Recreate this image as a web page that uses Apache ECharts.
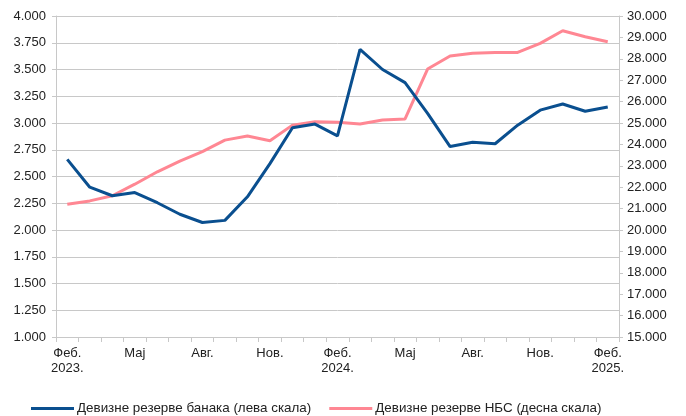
<!DOCTYPE html>
<html>
<head>
<meta charset="utf-8">
<script src="https://cdn.jsdelivr.net/npm/echarts@6/dist/echarts.min.js"></script>
<style>
  html, body { margin: 0; padding: 0; background: #fff; }
  #chart { width: 686px; height: 416px; }
</style>
</head>
<body>
<div id="chart"></div>
<script>
// месеци, феб. 2023 - феб. 2025
const months = ['Феб.\n2023.', 'Мар', 'Апр', 'Мај', 'Јун', 'Јул', 'Авг.', 'Сеп', 'Окт', 'Нов.', 'Дец', 'Јан',
  'Феб.\n2024.', 'Мар', 'Апр', 'Мај', 'Јун', 'Јул', 'Авг.', 'Сеп', 'Окт', 'Нов.', 'Дец', 'Јан', 'Феб.\n2025.'];

// девизне резерве банака (лева скала)
const banks = [2.66, 2.40, 2.32, 2.35, 2.255, 2.147, 2.07, 2.09, 2.31, 2.62, 2.956, 2.99,
  2.88, 3.689, 3.50, 3.377, 3.09, 2.78, 2.82, 2.806, 2.98, 3.12, 3.178, 3.11, 3.15];

// девизне резерве НБС (десна скала)
const nbs = [21200, 21360, 21600, 22140, 22720, 23220, 23660, 24200, 24390, 24170, 24900, 25060,
  25030, 24950, 25140, 25190, 27520, 28130, 28260, 28300, 28300, 28720, 29310, 29030, 28800];

const blue = '#0a4f8f';
const pink = '#ff8793';
const gridColor = '#c8c8c8';

const fmtThousand = function (v) {
  return String(Math.round(v)).replace(/\B(?=(\d{3})+(?!\d))/g, '.');
};

const chart = echarts.init(document.getElementById('chart'));

const option = {
  animation: false,
  textStyle: { fontFamily: 'Liberation Sans, Arial, sans-serif' },
  grid: { left: 56, right: 67, top: 16, bottom: 79 },
  legend: {
    top: 397,
    left: 26,
    itemWidth: 43,
    itemHeight: 3,
    itemGap: 18,
    icon: 'rect',
    textStyle: { fontSize: 13.4, color: '#222', padding: [0, 0, 0, -2] },
    data: ['Девизне резерве банака (лева скала)', 'Девизне резерве НБС (десна скала)']
  },
  xAxis: {
    type: 'category',
    data: months,
    boundaryGap: true,
    axisLine: { lineStyle: { color: gridColor, width: 1 } },
    axisTick: { show: true, interval: 0, length: 5, lineStyle: { color: gridColor } },
    axisLabel: {
      interval: 2,
      color: '#222',
      fontSize: 13,
      lineHeight: 15,
      margin: 9
    }
  },
  yAxis: [
    {
      type: 'value',
      min: 1,
      max: 4,
      interval: 0.25,
      axisLine: { show: true, lineStyle: { color: gridColor } },
      axisTick: { show: true, length: 4, lineStyle: { color: gridColor } },
      splitLine: { lineStyle: { color: gridColor, width: 1 } },
      axisLabel: {
        color: '#222',
        fontSize: 13,
        margin: 10,
        formatter: function (v) { return v.toFixed(3); }
      }
    },
    {
      type: 'value',
      min: 15000,
      max: 30000,
      interval: 1000,
      position: 'right',
      axisLine: { show: true, lineStyle: { color: gridColor } },
      axisTick: { show: true, length: 4, lineStyle: { color: gridColor } },
      splitLine: { show: false },
      axisLabel: {
        color: '#222',
        fontSize: 13,
        margin: 8,
        formatter: fmtThousand
      }
    }
  ],
  series: [
    {
      name: 'Девизне резерве банака (лева скала)',
      type: 'line',
      yAxisIndex: 0,
      data: banks,
      symbol: 'none',
      z: 3,
      lineStyle: { color: blue, width: 3 },
      itemStyle: { color: blue }
    },
    {
      name: 'Девизне резерве НБС (десна скала)',
      type: 'line',
      yAxisIndex: 1,
      data: nbs,
      symbol: 'none',
      z: 2,
      lineStyle: { color: pink, width: 3 },
      itemStyle: { color: pink }
    }
  ]
};

chart.setOption(option);
</script>
</body>
</html>
